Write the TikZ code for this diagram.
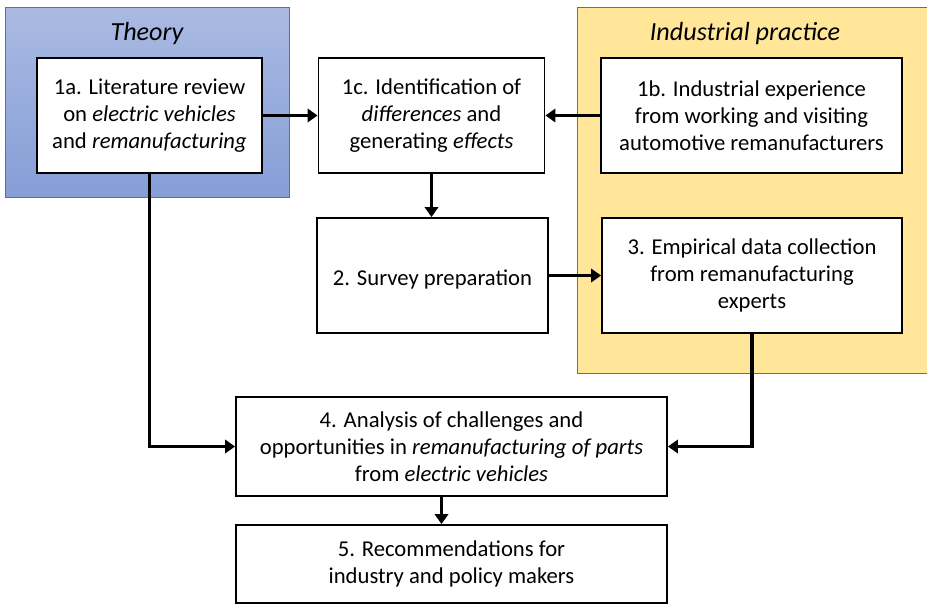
\documentclass[tikz,border=0pt]{standalone}
\usepackage{fontspec}
\setmainfont{Carlito}
\usetikzlibrary{arrows.meta}
\definecolor{theoryTop}{RGB}{170,186,226}
\definecolor{theoryBot}{RGB}{134,158,215}
\definecolor{frameBlue}{RGB}{68,114,196}
\definecolor{practice}{RGB}{255,230,153}
\newcommand{\stepfont}{\fontsize{17}{20.3}\selectfont}

\begin{document}
\begin{tikzpicture}[x=0.75pt,y=-0.75pt]
	\tikzset{stepbox/.style={draw=black,line width=1.4pt,fill=white,align=center,
		inner sep=1pt,font=\stepfont,execute at begin node={\rule{0pt}{17pt}}}}
	\tikzset{groupbox/.style={draw=frameBlue,line width=0.6pt}}
	\tikzset{grouptitle/.style={font=\fontsize{19.6}{22}\selectfont\itshape}}
	\tikzset{flow/.style={line width=2.5pt,-{Triangle[length=7.5pt,width=10pt]}}}
	\useasboundingbox (0,0) rectangle (927,604);
	% background groups
	\shade[groupbox,top color=theoryTop,bottom color=theoryBot] (5,7) rectangle (289,197);
	\fill[practice] (577,7) rectangle (928,373);
	\draw[groupbox] (928,7) -- (577,7) -- (577,373) -- (928,373);
	\node[grouptitle] (theory) at (147,34) {Theory};
	\node[grouptitle] (practice) at (745,34) {Industrial practice};
	% steps
	\node[stepbox,minimum width=168.75pt,minimum height=86.25pt] (la) at (149.5,115.5)
		{1a. Literature review\\on \textit{electric vehicles}\\and \textit{remanufacturing}};
	\node[stepbox,minimum width=169.5pt,minimum height=86.25pt] (ic) at (431.5,115.5)
		{1c. Identification of\\\textit{differences} and\\generating \textit{effects}};
	\node[stepbox,minimum width=225.75pt,minimum height=86.25pt] (ib) at (751.5,115.5)
		{1b. Industrial experience\\from working and visiting\\automotive remanufacturers};
	\node[stepbox,minimum width=173.25pt,minimum height=86.25pt] (sp) at (432.5,275.5)
		{2. Survey preparation};
	\node[stepbox,minimum width=225pt,minimum height=86.25pt] (ed) at (752,275.5)
		{3. Empirical data collection\\from remanufacturing\\experts};
	\node[stepbox,minimum width=323.25pt,minimum height=74.25pt] (an) at (451.5,446.5)
		{4. Analysis of challenges and\\opportunities in \textit{remanufacturing of parts}\\from \textit{electric vehicles}};
	\node[stepbox,minimum width=323.25pt,minimum height=58.5pt] (rc) at (451.5,564)
		{5. Recommendations for\\industry and policy makers};
	% connectors
	\draw[flow] (la.east) -- (ic.west);
	\draw[flow] (ib.west) -- (ic.west -| ic.east);
	\draw[flow] (ic.south) -- (ic.south |- sp.north);
	\draw[flow] (sp.east) -- (ed.west);
	\draw[flow] (la.south) |- (an.west);
	\draw[flow] (ed.south) |- (an.east);
	\draw[flow] ([xshift=-7.5pt]an.south) -- ([xshift=-7.5pt]rc.north);
\end{tikzpicture}
\end{document}
